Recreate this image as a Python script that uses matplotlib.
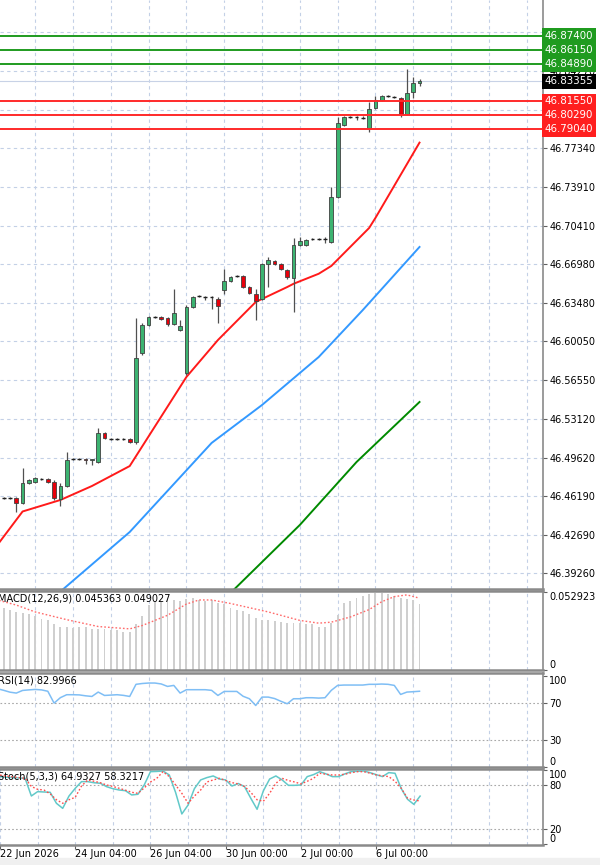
import matplotlib
matplotlib.use("Agg")
import matplotlib.pyplot as plt
import numpy as np

# ---- 4H candles, oldest first ----
opens = [46.4601, 46.4601, 46.4603, 46.4601, 46.4556, 46.4735, 46.4744, 46.4771, 46.4771, 46.4744,
         46.4592, 46.4708, 46.4950, 46.4950, 46.4950, 46.4941, 46.4923, 46.5183, 46.5129, 46.5129,
         46.5129, 46.5129, 46.5103, 46.5900, 46.6151, 46.6222, 46.6222, 46.6214, 46.6160, 46.6106,
         46.5721, 46.6312, 46.6411, 46.6402, 46.6402, 46.6384, 46.6464, 46.6545, 46.6590, 46.6590,
         46.6491, 46.6429, 46.6384, 46.6697, 46.6724, 46.6697, 46.6644, 46.6572, 46.6868, 46.6868,
         46.6921, 46.6921, 46.6921, 46.6895, 46.7298, 46.7943, 46.8014, 46.8014, 46.8010, 46.7916,
         46.8095, 46.8167, 46.8203, 46.8194, 46.8185, 46.8041, 46.8238, 46.8319]
highs = [46.4610, 46.4610, 46.4610, 46.4610, 46.4870, 46.4771, 46.4789, 46.4780, 46.4780, 46.4762,
         46.4735, 46.5013, 46.4959, 46.4959, 46.4959, 46.4950, 46.5228, 46.5192, 46.5138, 46.5138,
         46.5138, 46.5138, 46.6214, 46.6169, 46.6231, 46.6231, 46.6231, 46.6222, 46.6473, 46.6196,
         46.6330, 46.6411, 46.6420, 46.6411, 46.6411, 46.6402, 46.6653, 46.6590, 46.6599, 46.6599,
         46.6500, 46.6473, 46.6706, 46.6760, 46.6733, 46.6706, 46.6653, 46.6930, 46.6939, 46.6921,
         46.6930, 46.6930, 46.6939, 46.7387, 46.8014, 46.8023, 46.8023, 46.8023, 46.8019, 46.8149,
         46.8203, 46.8212, 46.8212, 46.8203, 46.8194, 46.8445, 46.8373, 46.8355]
lows = [46.4592, 46.4592, 46.4592, 46.4475, 46.4547, 46.4726, 46.4735, 46.4762, 46.4735, 46.4583,
        46.4529, 46.4699, 46.4941, 46.4941, 46.4905, 46.4896, 46.4914, 46.5129, 46.5120, 46.5120,
        46.5120, 46.5094, 46.5085, 46.5882, 46.6142, 46.6214, 46.6196, 46.6142, 46.6151, 46.6097,
        46.5703, 46.6303, 46.6402, 46.6375, 46.6294, 46.6169, 46.6429, 46.6536, 46.6581, 46.6482,
        46.6429, 46.6196, 46.6375, 46.6491, 46.6688, 46.6644, 46.6563, 46.6267, 46.6859, 46.6859,
        46.6912, 46.6912, 46.6886, 46.6886, 46.7289, 46.7934, 46.8005, 46.7988, 46.8001, 46.7880,
        46.8086, 46.8158, 46.8194, 46.8185, 46.8014, 46.8032, 46.8185, 46.8292]
closes = [46.4601, 46.4603, 46.4601, 46.4556, 46.4735, 46.4762, 46.4780, 46.4771, 46.4744, 46.4601,
          46.4708, 46.4941, 46.4950, 46.4950, 46.4941, 46.4950, 46.5183, 46.5138, 46.5129, 46.5129,
          46.5129, 46.5103, 46.5855, 46.6151, 46.6222, 46.6222, 46.6205, 46.6160, 46.6258, 46.6142,
          46.6312, 46.6402, 46.6411, 46.6402, 46.6402, 46.6321, 46.6545, 46.6581, 46.6590, 46.6491,
          46.6438, 46.6366, 46.6697, 46.6733, 46.6697, 46.6653, 46.6581, 46.6868, 46.6903, 46.6912,
          46.6921, 46.6921, 46.6921, 46.7298, 46.7961, 46.8014, 46.8014, 46.8014, 46.8010, 46.8086,
          46.8167, 46.8203, 46.8203, 46.8194, 46.8041, 46.8229, 46.8319, 46.83355]

# moving averages, read as (bar index, price) vertices
ma_red_idx = [0, 4, 10, 15, 21, 30, 35, 41, 42, 46, 47, 51, 53, 59, 60, 67]
ma_red = [46.4180, 46.4480, 46.4583, 46.4708, 46.4887, 46.5685, 46.6016, 46.6357, 46.6384,
          46.6491, 46.6520, 46.6610, 46.6680, 46.7020, 46.7110, 46.7785]
ma_blue_idx = [9, 21, 34, 42, 51, 58, 67]
ma_blue = [46.3714, 46.4296, 46.5094, 46.5434, 46.5864, 46.6285, 46.6850]
ma_green_idx = [37, 48, 57, 67]
ma_green = [46.3750, 46.4359, 46.4923, 46.5461]

# support / resistance levels and current bid
res_levels = [46.87400, 46.86150, 46.84890]
sup_levels = [46.81550, 46.80290, 46.79040]
bid = 46.83355
price_ticks = [46.87730, 46.84270, 46.80810, 46.77340, 46.73910, 46.70410, 46.66980, 46.63480,
               46.60050, 46.56550, 46.53120, 46.49620, 46.46190, 46.42690, 46.39260]

# MACD main (histogram) per bar and signal vertices
macd_hist = [0.0428, 0.0426, 0.0412, 0.0396, 0.0389, 0.0380, 0.0366, 0.0350, 0.0338, 0.0310,
             0.0291, 0.0296, 0.0287, 0.0291, 0.0291, 0.0280, 0.0280, 0.0280, 0.0273, 0.0273,
             0.0261, 0.0256, 0.0310, 0.0366, 0.0443, 0.0466, 0.0473, 0.0478, 0.0478, 0.0473,
             0.0482, 0.0489, 0.0478, 0.0473, 0.0478, 0.0454, 0.0450, 0.0426, 0.0412, 0.0403,
             0.0380, 0.0356, 0.0343, 0.0343, 0.0333, 0.0329, 0.0319, 0.0319, 0.0319, 0.0315,
             0.0310, 0.0296, 0.0296, 0.0319, 0.0373, 0.0459, 0.0473, 0.0489, 0.0506, 0.0520,
             0.0529, 0.0524, 0.0520, 0.0506, 0.0489, 0.0482, 0.0478, 0.045363]
macd_sig_idx = [0, 3, 6, 11, 16, 21, 23, 27, 30, 32, 34, 37, 43, 48, 51, 53, 56, 59, 61, 63, 65, 67]
macd_sig = [0.0478, 0.0443, 0.0396, 0.0343, 0.0296, 0.0280, 0.0303, 0.0373, 0.0450, 0.0478, 0.0478,
            0.0454, 0.0396, 0.0338, 0.0319, 0.0326, 0.0361, 0.0412, 0.0466, 0.0501, 0.0513, 0.049027]

# RSI(14) per bar
rsi = [85.8, 84.0, 82.0, 81.0, 83.9, 84.5, 85.0, 84.5, 83.0, 70.0, 76.0, 79.2, 79.2, 79.0, 78.0,
       77.3, 82.1, 78.4, 78.8, 79.2, 78.5, 77.3, 90.6, 91.5, 92.0, 92.0, 91.0, 88.3, 89.4, 81.0,
       84.7, 84.7, 84.7, 84.7, 84.0, 78.4, 82.8, 82.8, 82.8, 77.5, 74.8, 67.4, 76.6, 76.6, 75.0,
       72.0, 69.3, 74.8, 74.8, 75.9, 75.9, 75.5, 75.9, 84.0, 89.4, 89.8, 89.8, 89.8, 89.8, 90.6,
       90.6, 90.9, 90.6, 89.4, 79.5, 82.1, 82.5, 82.9966]

# Stochastic(5,3,3) main and signal per bar
stoch_main = [91.3, 90.5, 90.0, 89.5, 89.0, 65.1, 71.0, 70.5, 70.1, 55.2, 48.4, 65.0, 75.5, 84.5,
              84.5, 83.0, 82.3, 77.7, 75.0, 73.2, 72.3, 66.5, 67.4, 80.0, 98.0, 98.3, 98.9, 93.5,
              70.0, 40.8, 52.9, 75.0, 86.8, 90.0, 92.2, 88.0, 86.8, 78.6, 82.0, 77.7, 62.0, 47.1,
              72.0, 88.0, 92.2, 86.8, 79.5, 79.5, 80.0, 91.3, 94.0, 98.0, 95.0, 91.3, 91.3, 95.0,
              98.0, 98.5, 98.9, 96.7, 94.0, 91.3, 96.7, 95.8, 75.0, 60.6, 53.8, 64.9327]
stoch_sig = [93.5, 92.0, 91.0, 90.0, 89.0, 78.0, 74.1, 73.2, 68.0, 60.0, 55.2, 60.0, 63.3, 78.6,
             86.8, 85.0, 83.0, 80.0, 78.0, 75.5, 73.0, 70.1, 68.7, 76.0, 84.0, 89.0, 98.0, 91.3,
             80.0, 68.7, 55.2, 65.0, 73.2, 84.0, 86.8, 89.0, 86.0, 83.2, 81.4, 78.0, 70.0, 60.0,
             58.0, 68.7, 82.3, 89.0, 86.0, 84.0, 81.4, 85.0, 89.0, 95.8, 94.5, 93.5, 93.5, 94.5,
             96.5, 98.0, 98.0, 96.0, 93.5, 92.5, 91.3, 85.0, 75.5, 62.0, 59.7, 58.3217]

date_pos = [0, 12, 24, 36, 48, 60]
date_labels = ["22 Jun 2026", "24 Jun 04:00", "26 Jun 04:00", "30 Jun 00:00", "2 Jul 00:00", "6 Jul 00:00"]

W, H = 600, 865
fig = plt.figure(figsize=(W / 100, H / 100), dpi=100)
fig.patch.set_facecolor("white")


def panel(top, bottom):
    a = fig.add_axes([0, 1 - bottom / H, 543 / W, (bottom - top) / H])
    a.set_xlim(0.413, 86.6)
    for s in ("left", "top"):
        a.spines[s].set_visible(False)
    for s in ("right", "bottom", "top"):
        a.spines[s].set_color("#8a8a8a")
    a.spines["right"].set_linewidth(1.2)
    a.spines["bottom"].set_linewidth(1.8)
    a.yaxis.tick_right()
    a.tick_params(axis="y", length=3, width=0.8, color="#606060", labelsize=7, pad=1.5)
    a.tick_params(axis="x", bottom=False, labelbottom=False)
    for g in range(0, 90, 6):
        a.axvline(g, color="#c3d0e6", lw=0.8, ls=(0, (3, 3)), zorder=0)
    return a


grid_kw = dict(color="#c3d0e6", lw=0.8, ls=(0, (3, 3)), zorder=0)
lvl_kw = dict(color="#a8a8a8", lw=0.8, ls=(0, (1.5, 2)), zorder=0)

# ---- main price panel ----
ax = panel(0, 589)
ax.set_ylim(46.37854, 46.90628)
ax.set_yticks(price_ticks)
ax.set_yticklabels([f"{p:.5f}" for p in price_ticks])
for p in price_ticks:
    ax.axhline(p, **grid_kw)

idx = np.arange(len(opens))
o, h, l, c = map(np.array, (opens, highs, lows, closes))
ax.vlines(idx, l, h, color="#505050", lw=0.9, zorder=3)
body = np.abs(c - o)
up = (c > o) & (body >= 0.0002)
dn = (c < o) & (body >= 0.0002)
dj = body < 0.0002
ax.bar(idx[up], (c - o)[up], bottom=o[up], width=0.6, color="#3cb371", edgecolor="#404040", lw=0.6, zorder=4)
ax.bar(idx[dn], (c - o)[dn], bottom=o[dn], width=0.6, color="#e8000b", edgecolor="#404040", lw=0.6, zorder=4)
ax.hlines(c[dj], idx[dj] - 0.3, idx[dj] + 0.3, color="#202020", lw=1.0, zorder=4)

ax.plot(ma_red_idx, ma_red, color="#ff1a1a", lw=1.4, zorder=2)
ax.plot(ma_blue_idx, ma_blue, color="#3399ff", lw=1.4, zorder=2)
ax.plot(ma_green_idx, ma_green, color="#008a00", lw=1.4, zorder=2)

ax.axhline(bid, color="#c8d2e6", lw=0.8, zorder=1)
ytr = ax.get_yaxis_transform()
for p in res_levels:
    ax.axhline(p, color="#1f9b1f", lw=1.4, zorder=5)
    ax.text(1.003, p, f"{p:.5f}", transform=ytr, va="center", ha="left", color="white", fontsize=7.4,
            bbox=dict(boxstyle="square,pad=0.25", fc="#1f9b1f", ec="none"), clip_on=False, zorder=10)
for p in sup_levels:
    ax.axhline(p, color="#ff2a2a", lw=1.4, zorder=5)
    ax.text(1.003, p, f"{p:.5f}", transform=ytr, va="center", ha="left", color="white", fontsize=7.4,
            bbox=dict(boxstyle="square,pad=0.25", fc="#ff1f1f", ec="none"), clip_on=False, zorder=10)
ax.text(1.003, bid, f"{bid:.5f}", transform=ytr, va="center", ha="left", color="white", fontsize=7.4,
        bbox=dict(boxstyle="square,pad=0.25", fc="black", ec="none"), clip_on=False, zorder=10)

# ---- MACD ----
am = panel(591, 670)
am.spines["top"].set_visible(True)
am.spines["top"].set_linewidth(1.8)
am.set_ylim(-0.0002, 0.05395)
am.bar(idx, macd_hist, width=0.3, color="#cfcfcf", zorder=2)
am.plot(macd_sig_idx, macd_sig, color="#ff6b6b", lw=1.0, ls=(0, (1.2, 1.5)), zorder=3)
am.set_yticks([0, 0.052923])
am.set_yticklabels(["0", "0.052923"])
am.text(-0.003, 0.97, "MACD(12,26,9) 0.045363 0.049027", transform=am.transAxes, fontsize=7, va="top", ha="left")

# ---- RSI ----
ar = panel(673, 767)
ar.spines["top"].set_visible(True)
ar.spines["top"].set_linewidth(1.8)
ar.set_ylim(0, 103)
for v in (70, 30):
    ar.axhline(v, **lvl_kw)
ar.plot(idx, rsi, color="#7fbef5", lw=1.1, zorder=3)
ar.set_yticks([0, 30, 70, 100])
ar.text(-0.003, 0.97, "RSI(14) 82.9966", transform=ar.transAxes, fontsize=7, va="top", ha="left")

# ---- Stochastic ----
ast = panel(769, 845)
ast.spines["top"].set_visible(True)
ast.spines["top"].set_linewidth(1.8)
ast.set_ylim(-1.2, 101.6)
for v in (80, 20):
    ast.axhline(v, **lvl_kw)
ast.plot(idx, stoch_main, color="#62c9c9", lw=1.1, zorder=3)
ast.plot(idx, stoch_sig, color="#ff4d4d", lw=1.0, ls=(0, (1.2, 1.5)), zorder=4)
ast.set_yticks([0, 20, 80, 100])
ast.text(-0.004, 0.97, "Stoch(5,3,3) 64.9327 58.3217", transform=ast.transAxes, fontsize=7, va="top", ha="left")
ast.set_xticks(date_pos)
ast.set_xticklabels(date_labels, ha="left")
ast.tick_params(axis="x", bottom=True, labelbottom=True, length=3, color="#606060", labelsize=7, pad=0)

# push the end labels of the oscillator scales inside their panels
for a in (am, ar, ast):
    labs = a.get_yticklabels()
    labs[0].set_verticalalignment("bottom")
    labs[-1].set_verticalalignment("top")

fig.patches.append(plt.Rectangle((0, 0), 1, 7 / H, transform=fig.transFigure, color="#f0f0f0", zorder=-1))

fig.savefig("out.png", dpi=100)
plt.close(fig)
